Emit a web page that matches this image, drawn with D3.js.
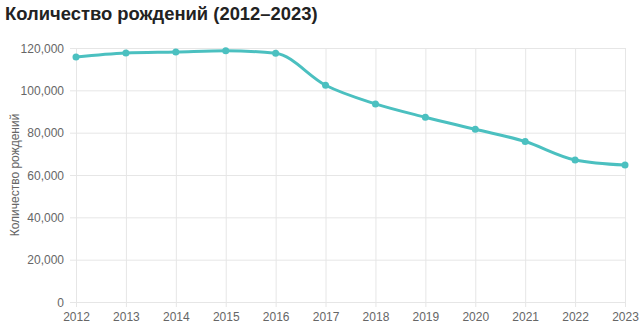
<!DOCTYPE html>
<html>
<head>
<meta charset="utf-8">
<script src="https://cdn.jsdelivr.net/npm/d3@7"></script>
<style>
  body { margin: 0; background: #fff; }
  text { font-family: "Liberation Sans", Arial, sans-serif; }
</style>
</head>
<body>
<div id="chart"></div>
<script>
// Births per year
const years = [2012, 2013, 2014, 2015, 2016, 2017, 2018, 2019, 2020, 2021, 2022, 2023];
const births = [115700, 117600, 118100, 118700, 117500, 102400, 93600, 87300, 81600, 75800, 67100, 64700];
const yTicks = [0, 20000, 40000, 60000, 80000, 100000, 120000];

const width = 640, height = 324;
const margin = { top: 48, right: 15, bottom: 22, left: 76 };
const innerW = width - margin.left - margin.right,
      innerH = height - margin.top - margin.bottom;

const svg = d3.select("#chart")
  .append("svg")
  .attr("width", width)
  .attr("height", height);

// Title
svg.append("text")
  .attr("x", 5)
  .attr("y", 20)
  .style("font-size", "18.4px")
  .style("font-weight", "bold")
  .style("fill", "#222")
  .text("Количество рождений (2012–2023)");

const g = svg.append("g")
  .attr("transform", `translate(${margin.left},${margin.top})`);

const x = d3.scalePoint()
  .domain(years)
  .range([0, innerW]);

const y = d3.scaleLinear()
  .domain([0, 120000])
  .range([innerH, 0]);

// Gridlines + axes
const xAxis = g.append("g")
  .attr("transform", `translate(0,${innerH})`)
  .call(d3.axisBottom(x).tickSizeOuter(0));
xAxis.selectAll(".tick line").attr("y2", -innerH).attr("y1", 5);
xAxis.selectAll(".tick text").attr("y", 19).attr("dy", null);

const yAxis = g.append("g")
  .call(d3.axisLeft(y).tickValues(yTicks).tickFormat(d3.format(",")).tickSizeOuter(0).tickPadding(6));
yAxis.selectAll(".tick line").attr("x1", -6).attr("x2", innerW);

[xAxis, yAxis].forEach(a => {
  a.select(".domain").remove();
  a.selectAll(".tick line").attr("stroke", "#e6e6e6");
  a.selectAll(".tick text")
    .style("font-size", "12px")
    .style("fill", "#666")
    .style("font-family", "'Liberation Sans', Arial, sans-serif");
});
yAxis.selectAll(".tick text").attr("dy", "0.35em");

// Y axis title
svg.append("text")
  .attr("transform", `translate(19,${margin.top + innerH / 2}) rotate(-90)`)
  .attr("text-anchor", "middle")
  .style("font-size", "12px")
  .style("fill", "#666")
  .text("Количество рождений");

// Line
const line = d3.line()
  .x((d, i) => x(years[i]))
  .y(d => y(d))
  .curve(d3.curveMonotoneX);

g.append("path")
  .datum(births)
  .attr("fill", "none")
  .attr("stroke", "#4bc0c0")
  .attr("stroke-width", 3)
  .attr("d", line);

g.selectAll(".dot")
  .data(births)
  .enter()
  .append("circle")
  .attr("class", "dot")
  .attr("cx", (d, i) => x(years[i]))
  .attr("cy", d => y(d))
  .attr("r", 3.5)
  .attr("fill", "#4bc0c0");
</script>
</body>
</html>
